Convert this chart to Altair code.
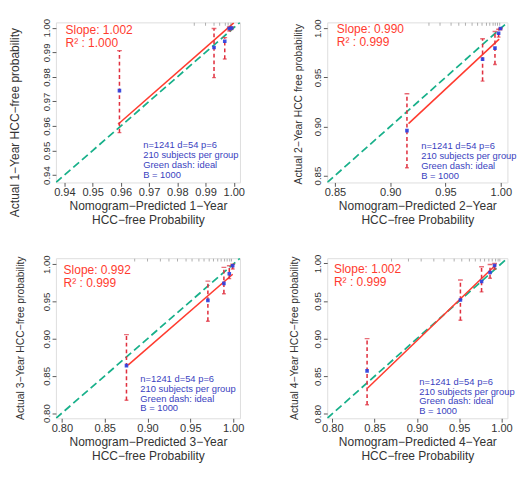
import altair as alt
import pandas as pd

FONT = "Liberation Sans"

# ---------------- data ----------------
y_titles = ["Actual 1\u2212Year HCC\u2212free probability",
            "Actual 2\u2212Year HCC free probability",
            "Actual 3\u2212Year HCC\u2212free probability",
            "Actual 4\u2212Year HCC\u2212free probability"]
x_titles = [["Nomogram\u2212Predicted 1\u2212Year", "HCC\u2212free Probability"],
            ["Nomogram\u2212Predicted 2\u2212Year", "HCC\u2212free Probability"],
            ["Nomogram\u2212Predicted 3\u2212Year", "HCC\u2212free Probability"],
            ["Nomogram\u2212Predicted 4\u2212Year", "HCC\u2212free Probability"]]
slopes = ["1.002", "0.990", "0.992", "1.002"]
r2s = ["1.000", "0.999", "0.999", "0.999"]

domains = [[0.937, 1.0022], [0.843, 1.006], [0.793, 1.008], [0.794, 1.007]]
ticks = [[0.94, 0.95, 0.96, 0.97, 0.98, 0.99, 1.00],
         [0.85, 0.90, 0.95, 1.00],
         [0.80, 0.85, 0.90, 0.95, 1.00],
         [0.80, 0.85, 0.90, 0.95, 1.00]]

pred = [[0.9595, 0.9930, 0.9968, 0.9984, 0.9992],
        [0.9151, 0.9835, 0.9947, 0.9980, 0.9997],
        [0.8754, 0.9705, 0.9892, 0.9955, 0.9995],
        [0.8411, 0.9514, 0.9764, 0.9864, 0.9918]]
obs = [[0.9744, 0.9920, 0.9945, 0.9997, 0.9999],
       [0.8958, 0.9686, 0.9798, 0.9949, 0.9998],
       [0.8637, 0.9514, 0.9742, 0.9871, 0.9978],
       [0.8571, 0.9515, 0.9760, 0.9880, 0.9974]]
lo = [[0.9573, 0.9797, 0.9873, 0.9987, 0.9993],
      [0.8580, 0.9462, 0.9631, 0.9910, 0.9985],
      [0.8172, 0.9234, 0.9604, 0.9806, 0.9935],
      [0.8120, 0.9245, 0.9622, 0.9803, 0.9923]]
hi = [[0.9907, 0.9997, 0.9960, 1.0003, 1.0003],
      [0.9333, 0.9894, 0.9968, 0.9990, 1.0000],
      [0.9054, 0.9772, 0.9957, 0.9978, 1.0000],
      [0.9000, 0.9781, 0.9957, 0.9987, 1.0000]]

# apparent calibration line (start / end)
red_x = [[0.9590, 1.0000], [0.9165, 0.9985], [0.8772, 0.9995], [0.8418, 0.9936]]
red_y = [[0.9607, 1.0020], [0.9029, 0.9890], [0.8645, 0.9865], [0.8343, 0.9987]]

# rug of predictions along the top edge
rug = [[0.986, 0.990, 0.993, 0.995, 0.997, 0.998, 0.999],
       [0.935, 0.945, 0.955, 0.962, 0.968, 0.974, 0.979, 0.983, 0.987, 0.990, 0.993, 0.995, 0.997, 0.999],
       [0.885, 0.900, 0.915, 0.925, 0.935, 0.945, 0.952, 0.960, 0.966, 0.972, 0.977, 0.982, 0.986, 0.990, 0.993, 0.996, 0.998],
       [0.870, 0.890, 0.905, 0.920, 0.932, 0.944, 0.953, 0.962, 0.969, 0.975, 0.980, 0.985, 0.989, 0.993, 0.996, 0.998]]

info_lines = ["n=1241 d=54 p=6", "210 subjects per group", "Green dash: ideal", "B = 1000"]

# ---------------- layout ----------------
widths = [192, 188, 192, 188]
H = 167
y_title_size = [12.5, 10.8, 10.8, 10.8]
y_title_pad = [21, 10, 17, 14]
y_title_y = [104, 85, 83, 83]
info_pos = [(91, 123), (98, 124), (88, 121), (96, 124)]
slope_pos = [(10, 8), (10, 7), (8, 12), (7, 11)]

RED_LINE = "#ff3b2f"
RED_BAR = "#e0303f"
GREEN = "#18b08a"
BLUE = "#2b3fe0"
INFO = "#3a3fc0"


def panel(i):
    d = domains[i]
    xs = alt.Scale(domain=d, nice=False, zero=False)
    ys = alt.Scale(domain=d, nice=False, zero=False)
    xaxis = alt.Axis(values=ticks[i], tickCount=20, format=".2f", title=x_titles[i],
                     grid=False, domain=False, tickSize=4, tickColor="#555", labelPadding=1,
                     labelFontSize=11.5, labelColor="#333", labelFont=FONT,
                     labelOverlap=False, labelSeparation=0,
                     titleFont=FONT, titleFontSize=12.5, titleFontWeight="normal",
                     titleColor="#333", titlePadding=2, titleLineHeight=14)
    yaxis = alt.Axis(values=ticks[i], tickCount=20, format=".2f", title=y_titles[i],
                     grid=False, domain=False, tickSize=4, tickColor="#555", labelPadding=1,
                     labelAngle=270, labelAlign="center", labelBaseline="bottom",
                     labelFontSize=10, labelColor="#333", labelFont=FONT,
                     labelOverlap=False, labelSeparation=0,
                     minExtent=15, maxExtent=15,
                     titleFont=FONT, titleFontSize=y_title_size[i], titleFontWeight="normal",
                     titleColor="#333", titlePadding=y_title_pad[i],
                     titleY=y_title_y[i])

    ideal = pd.DataFrame({"x": d, "y": d})
    pts = pd.DataFrame({"x": pred[i], "y": obs[i], "lo": lo[i], "hi": hi[i]})
    red = pd.DataFrame({"x": red_x[i], "y": red_y[i]})
    rg = pd.DataFrame({"x": rug[i]})

    base_ideal = alt.Chart(ideal).mark_line(color=GREEN, strokeWidth=1.8,
                                            strokeDash=[8, 4], clip=True).encode(
        x=alt.X("x:Q", scale=xs, axis=xaxis),
        y=alt.Y("y:Q", scale=ys, axis=yaxis))
    redline = alt.Chart(red).mark_line(color=RED_LINE, strokeWidth=1.6, clip=True).encode(
        x="x:Q", y="y:Q")
    bars = alt.Chart(pts).mark_rule(color=RED_BAR, strokeWidth=1.6,
                                    strokeDash=[4, 3], clip=True).encode(
        x="x:Q", y="lo:Q", y2="hi:Q")
    cap_hi = alt.Chart(pts).mark_tick(color=RED_BAR, orient="horizontal", size=5,
                                      thickness=1.5, clip=True).encode(x="x:Q", y="hi:Q")
    cap_lo = alt.Chart(pts).mark_tick(color=RED_BAR, orient="horizontal", size=4,
                                      thickness=1.5, clip=True).encode(x="x:Q", y="lo:Q")
    dots = alt.Chart(pts).mark_point(shape="square", filled=True, color=BLUE, size=14,
                                     opacity=0.9, clip=True).encode(x="x:Q", y="y:Q")
    rugs = alt.Chart(rg).mark_tick(color="#777", orient="vertical", size=3,
                                   thickness=1, opacity=0.6).encode(
        x="x:Q", y=alt.value(2))
    one = alt.Data(values=[{"k": 1}])
    sx, sy = slope_pos[i]
    t1 = alt.Chart(one).mark_text(align="left", baseline="middle", font=FONT, fontSize=12.5,
                                  color=RED_LINE).encode(
        x=alt.value(sx), y=alt.value(sy), text=alt.value("Slope: " + slopes[i]))
    t2 = alt.Chart(one).mark_text(align="left", baseline="middle", font=FONT, fontSize=12.5,
                                  color=RED_LINE).encode(
        x=alt.value(sx), y=alt.value(sy + 14), text=alt.value("R\u00b2 : " + r2s[i]))
    ix, iy = info_pos[i]
    t3 = alt.Chart(one).mark_text(align="left", baseline="top", font=FONT, fontSize=9.8,
                                  lineHeight=10.3, color=INFO).encode(
        x=alt.value(ix), y=alt.value(iy), text=alt.value(info_lines))

    return alt.layer(base_ideal, redline, bars, cap_hi, cap_lo, dots, rugs, t1, t2, t3).properties(
        width=widths[i], height=H)


chart = alt.concat(panel(0), panel(1), panel(2), panel(3), columns=2,
                   bounds="flush", spacing={"row": 79, "column": 91}).properties(
    padding={"left": 0, "top": 0, "right": 0, "bottom": 0}
).configure_view(stroke="#8a8a8a", strokeWidth=1.2).configure_axis(
    labelOverlap=False, labelSeparation=0
).configure(background="white")

chart.save("out.html", embed_options={"renderer": "svg", "actions": False})
